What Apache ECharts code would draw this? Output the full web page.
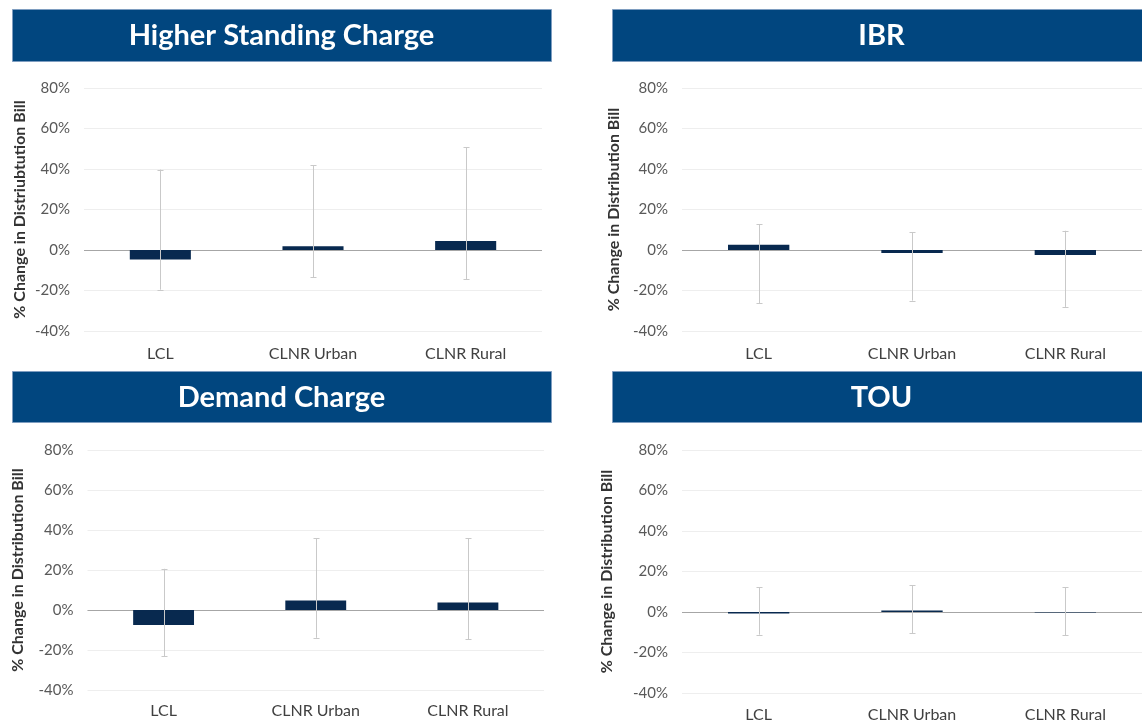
<!DOCTYPE html>
<html>
<head>
<meta charset="utf-8">
<script src="https://cdn.jsdelivr.net/npm/echarts@6/dist/echarts.min.js"></script>
<style>
html,body{margin:0;padding:0;background:#fff;}
#c{width:1142px;height:726px;}
</style>
</head>
<body>
<div id="c"></div>
<script>
// ---- data ----
const categories = ['LCL', 'CLNR Urban', 'CLNR Rural'];
const panelTitles = ['Higher Standing Charge', 'IBR', 'Demand Charge', 'TOU'];
const axisNames = ['% Change in Distriubtution Bill', '% Change in Distribution Bill', '% Change in Distribution Bill', '% Change in Distribution Bill'];

const hscMean = [-4.7, 1.8, 4.4];
const hscLow  = [-19.6, -13.5, -14.3];
const hscHigh = [39.7, 41.8, 50.7];

const ibrMean = [2.6, -1.5, -2.5];
const ibrLow  = [-26.2, -25.0, -28.1];
const ibrHigh = [12.8, 8.9, 9.5];

const dcMean = [-7.5, 4.8, 3.7];
const dcLow  = [-23.2, -13.9, -14.7];
const dcHigh = [20.6, 35.8, 35.8];

const touMean = [-0.8, 0.8, -0.2];
const touLow  = [-11.2, -10.5, -11.5];
const touHigh = [12.3, 13.3, 12.2];

const yMin = -40, yMax = 80, yStep = 20;

// ---- layout ----
const FONT = 'Lato, "Open Sans", sans-serif';
const panels = [
  { mean: hscMean, low: hscLow, high: hscHigh, grid: { left: 84, top: 88, width: 458, height: 243 }, bar: [12, 9, 539, 52], nameGap: 56, labelMargin: 15 },
  { mean: ibrMean, low: ibrLow, high: ibrHigh, grid: { left: 682, top: 88, width: 468, height: 243 }, bar: [612, 9, 539, 52], nameGap: 60, labelMargin: 15 },
  { mean: dcMean, low: dcLow, high: dcHigh, grid: { left: 87.5, top: 450, width: 456.5, height: 240 }, bar: [12, 371, 539, 51], nameGap: 62, labelMargin: 13 },
  { mean: touMean, low: touLow, high: touHigh, grid: { left: 682, top: 450, width: 468, height: 243 }, bar: [612, 371, 539, 51], nameGap: 67, labelMargin: 14 }
];

const grids = [], xAxes = [], yAxes = [], series = [], graphics = [];
panels.forEach((p, i) => {
  grids.push(Object.assign({ containLabel: false }, p.grid));
  xAxes.push({
    type: 'category', gridIndex: i, data: categories,
    axisLine: { show: false, onZero: false }, axisTick: { show: false },
    axisLabel: { color: '#404040', fontSize: 16, fontFamily: FONT, margin: p.labelMargin },
    splitLine: { show: false }
  });
  yAxes.push({
    type: 'value', gridIndex: i, min: yMin, max: yMax, interval: yStep,
    name: axisNames[i], nameLocation: 'middle', nameGap: p.nameGap,
    nameTextStyle: { color: '#333333', fontSize: 16, fontWeight: 'bold', fontFamily: FONT },
    axisLine: { show: false }, axisTick: { show: false },
    axisLabel: { formatter: '{value}%', color: '#595959', fontSize: 15, fontFamily: FONT, margin: 14 },
    splitLine: { show: true, lineStyle: { color: '#EEEEEE', width: 1 } }
  });
  series.push({
    type: 'bar', xAxisIndex: i, yAxisIndex: i, data: p.mean, barWidth: '40%',
    itemStyle: { color: '#08294F' }, z: 3,
    markLine: {
      silent: true, symbol: 'none', label: { show: false },
      lineStyle: { color: '#A6A6A6', width: 1, type: 'solid' },
      data: [{ yAxis: 0 }], z: 2
    }
  });
  series.push({
    type: 'custom', xAxisIndex: i, yAxisIndex: i, z: 5,
    data: categories.map((c, k) => [k, p.low[k], p.high[k]]),
    renderItem: function (params, api) {
      const x = api.value(0);
      const lo = api.coord([x, api.value(1)]);
      const hi = api.coord([x, api.value(2)]);
      const cx = Math.round(lo[0]) + 0.5;
      const st = { stroke: '#C9C9C9', lineWidth: 1 };
      const w = 3;
      return {
        type: 'group',
        children: [
          { type: 'line', shape: { x1: cx, y1: hi[1], x2: cx, y2: lo[1] }, style: st },
          { type: 'line', shape: { x1: cx - w, y1: Math.round(hi[1]) + 0.5, x2: cx + w, y2: Math.round(hi[1]) + 0.5 }, style: st },
          { type: 'line', shape: { x1: cx - w, y1: Math.round(lo[1]) + 0.5, x2: cx + w, y2: Math.round(lo[1]) + 0.5 }, style: st }
        ]
      };
    }
  });
  const b = p.bar;
  graphics.push({
    type: 'rect', shape: { x: b[0] + 0.5, y: b[1] + 0.5, width: b[2], height: b[3] },
    style: { fill: '#01467F', stroke: '#7E9DC0', lineWidth: 1 }, z: 10
  });
  graphics.push({
    type: 'text', x: b[0] + b[2] / 2, y: b[1] + b[3] / 2 + 1, z: 11,
    style: { text: panelTitles[i], fill: '#FFFFFF', font: 'bold 29px ' + FONT, textAlign: 'center', textVerticalAlign: 'middle' }
  });
});

const chart = echarts.init(document.getElementById('c'), null, { renderer: 'canvas' });
chart.setOption({
  animation: false,
  backgroundColor: '#FFFFFF',
  grid: grids, xAxis: xAxes, yAxis: yAxes, series: series, graphic: graphics
});
</script>
</body>
</html>
